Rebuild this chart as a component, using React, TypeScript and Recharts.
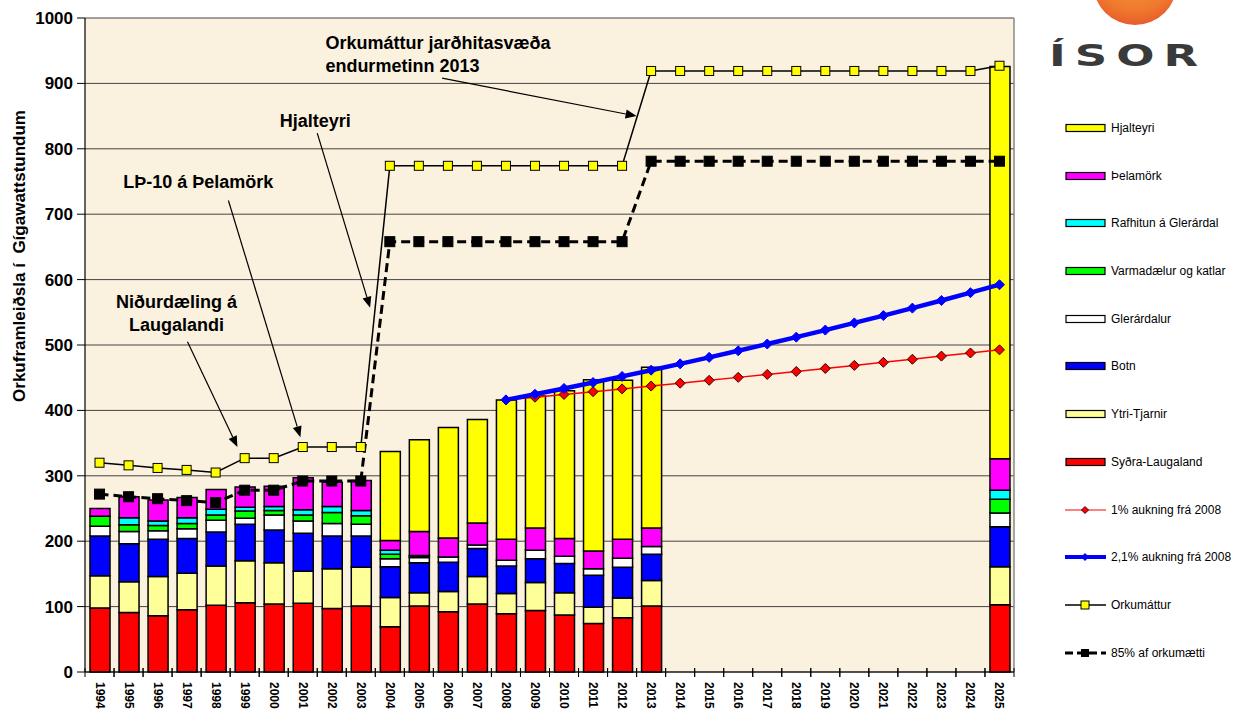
import React from 'react';
import {
  ComposedChart,
  Bar,
  Line,
  XAxis,
  YAxis,
  CartesianGrid,
  ReferenceLine,
  ReferenceDot,
} from 'recharts';

// ár
const years = [
  '1994', '1995', '1996', '1997', '1998', '1999', '2000', '2001', '2002', '2003',
  '2004', '2005', '2006', '2007', '2008', '2009', '2010', '2011', '2012', '2013',
  '2014', '2015', '2016', '2017', '2018', '2019', '2020', '2021', '2022', '2023',
  '2024', '2025',
];

// orkuvinnsla eftir svæðum (GWh) - 2014-2024 engar súlur
const sydraLaugaland = [98, 91, 86, 95, 102, 106, 104, 105, 97, 101, 69, 101, 92, 104, 89, 94, 87, 74, 83, 101, null, null, null, null, null, null, null, null, null, null, null, 103];
const ytriTjarnir = [49, 47, 60, 56, 60, 64, 63, 49, 61, 59, 45, 20, 31, 42, 31, 43, 34, 25, 30, 39, null, null, null, null, null, null, null, null, null, null, null, 58];
const botn = [61, 58, 57, 53, 52, 56, 50, 58, 50, 48, 47, 46, 45, 43, 42, 36, 45, 49, 47, 40, null, null, null, null, null, null, null, null, null, null, null, 61];
const glerardalur = [15, 19, 13, 15, 18, 9, 23, 19, 19, 18, 12, 8, 8, 5, 9, 13, 11, 10, 14, 12, null, null, null, null, null, null, null, null, null, null, null, 21];
const varmadaelur = [15, 10, 8, 8, 8, 11, 7, 9, 17, 13, 7, 2, 0, 0, 0, 0, 0, 0, 0, 0, null, null, null, null, null, null, null, null, null, null, null, 21];
const rafhitun = [0, 11, 7, 9, 9, 6, 6, 8, 9, 8, 6, 1, 0, 0, 0, 0, 0, 0, 0, 0, null, null, null, null, null, null, null, null, null, null, null, 14];
const thelamork = [12, 32, 32, 31, 30, 31, 31, 49, 37, 46, 15, 37, 29, 34, 32, 34, 27, 27, 29, 28, null, null, null, null, null, null, null, null, null, null, null, 48];
const hjalteyri = [0, 0, 0, 0, 0, 0, 0, 0, 0, 0, 136, 140, 169, 158, 213, 202, 226, 262, 243, 246, null, null, null, null, null, null, null, null, null, null, null, 600];

// spár frá 2008
const aukning1 = [null, null, null, null, null, null, null, null, null, null, null, null, null, null, 416, 420.2, 424.4, 428.6, 432.9, 437.2, 441.6, 446.0, 450.5, 455.0, 459.5, 464.1, 468.8, 473.5, 478.2, 483.0, 487.8, 492.6];
const aukning21 = [null, null, null, null, null, null, null, null, null, null, null, null, null, null, 416, 424.7, 433.6, 442.7, 452.0, 461.5, 471.2, 481.1, 491.2, 501.5, 512.0, 522.8, 533.8, 545.0, 556.4, 568.1, 580.0, 592.2];

// orkumáttur og 85% af honum
const orkumattur = [320, 316, 312, 309, 305, 327, 327, 344, 344, 344, 774, 774, 774, 774, 774, 774, 774, 774, 774, 919, 919, 919, 919, 919, 919, 919, 919, 919, 919, 919, 919, 927];
const orkumaetti85 = [272, 268, 265, 262, 259, 278, 278, 292, 292, 292, 658, 658, 658, 658, 658, 658, 658, 658, 658, 781, 781, 781, 781, 781, 781, 781, 781, 781, 781, 781, 781, 781];

const yTicks = [0, 100, 200, 300, 400, 500, 600, 700, 800, 900, 1000];

// skýringartextar og örvar (x: staða á árás, 0 = 1994, y í GWh)
const notes = [
  { lines: ['Niðurdæling á', 'Laugalandi'], x: 2.65, y: 557, anchor: 'middle' },
  { lines: ['LÞ-10 á Þelamörk'], x: 3.4, y: 740, anchor: 'middle' },
  { lines: ['Hjalteyri'], x: 7.43, y: 833, anchor: 'middle' },
  { lines: ['Orkumáttur jarðhitasvæða', 'endurmetinn 2013'], x: 7.78, y: 953, anchor: 'start' },
];
const arrows = [
  { from: { x: 3.03, y: 505 }, to: { x: 4.75, y: 344 } },
  { from: { x: 4.44, y: 721 }, to: { x: 6.92, y: 359 } },
  { from: { x: 7.5, y: 824 }, to: { x: 9.32, y: 557 } },
  { from: { x: 11.8, y: 908 }, to: { x: 18.5, y: 850 } },
];

const barSeries = [
  { key: 'sydra', name: 'Syðra-Laugaland', color: '#FF0000', values: sydraLaugaland },
  { key: 'ytri', name: 'Ytri-Tjarnir', color: '#FFFF99', values: ytriTjarnir },
  { key: 'botn', name: 'Botn', color: '#0000FF', values: botn },
  { key: 'gler', name: 'Glerárdalur', color: '#FFFFFF', values: glerardalur },
  { key: 'varm', name: 'Varmadælur og katlar', color: '#00FF00', values: varmadaelur },
  { key: 'rafh', name: 'Rafhitun á Glerárdal', color: '#00FFFF', values: rafhitun },
  { key: 'thel', name: 'Þelamörk', color: '#FF00FF', values: thelamork },
  { key: 'hjal', name: 'Hjalteyri', color: '#FFFF00', values: hjalteyri },
];

const data = years.map((year, i) => {
  const row: any = {
    year,
    pos: i,
    p1: aukning1[i],
    p21: aukning21[i],
    ork: orkumattur[i],
    o85: orkumaetti85[i],
  };
  barSeries.forEach((s) => {
    row[s.key] = s.values[i];
  });
  return row;
});

const FONT = '"Liberation Sans", Arial, sans-serif';

const diamond = (fill: string, r: number, stroke: string) => (p: any) => {
  const k = `dm-${p.index}`;
  if (p.cx == null || p.cy == null || p.value == null) return <g key={k} />;
  const { cx, cy } = p;
  return (
    <polygon
      key={k}
      points={`${cx},${cy - r} ${cx + r},${cy} ${cx},${cy + r} ${cx - r},${cy}`}
      fill={fill}
      stroke={stroke}
      strokeWidth={1}
    />
  );
};

const square = (fill: string, size: number) => (p: any) => {
  const k = `sq-${p.index}`;
  if (p.cx == null || p.cy == null || p.value == null) return <g key={k} />;
  return (
    <rect key={k} x={p.cx - size / 2} y={p.cy - size / 2} width={size} height={size} fill={fill} stroke="#000" strokeWidth={1} />
  );
};

const Arrow = (props: any) => {
  const { x1, y1, x2, y2 } = props;
  if ([x1, y1, x2, y2].some((v) => v == null || Number.isNaN(v))) return <g />;
  const a = Math.atan2(y2 - y1, x2 - x1);
  const len = 11;
  const w = 4.5;
  const bx = x2 - len * Math.cos(a);
  const by = y2 - len * Math.sin(a);
  const p1 = `${bx + w * Math.sin(a)},${by - w * Math.cos(a)}`;
  const p2 = `${bx - w * Math.sin(a)},${by + w * Math.cos(a)}`;
  return (
    <g>
      <line x1={x1} y1={y1} x2={bx} y2={by} stroke="#000" strokeWidth={1.2} />
      <polygon points={`${x2},${y2} ${p1} ${p2}`} fill="#000" />
    </g>
  );
};

const noteShape = (lines: string[], anchor: string) => (p: any) => (
  <text x={p.cx} y={p.cy} textAnchor={anchor as any} fontFamily={FONT} fontSize={18} fontWeight="bold" fill="#000">
    {lines.map((l, i) => (
      <tspan key={i} x={p.cx} dy={i === 0 ? 0 : 23}>
        {l}
      </tspan>
    ))}
  </text>
);

const YearTick = (props: any) => {
  const { x, y, payload } = props;
  const half = payload && payload.offset ? payload.offset : 14.5;
  return (
    <g>
      <line x1={x - half} x2={x - half} y1={y - 4} y2={y + 5} stroke="#000" />
      <line x1={x + half} x2={x + half} y1={y - 4} y2={y + 5} stroke="#000" />
      <text
        transform={`translate(${x},${y + 10}) rotate(90)`}
        textAnchor="start"
        dominantBaseline="central"
        fontFamily={FONT}
        fontSize={12}
        fontWeight="bold"
        fill="#000"
      >
        {payload.value}
      </text>
    </g>
  );
};

const YLabel = () => (
  <text
    x={19}
    y={256}
    transform="rotate(-90 19 256)"
    textAnchor="middle"
    dominantBaseline="central"
    fontFamily={FONT}
    fontSize={17}
    fontWeight="bold"
    fill="#000"
    xmlSpace="preserve"
  >
    Orkuframleiðsla í  Gígawattstundum
  </text>
);

const legendItems = [
  ...barSeries.slice().reverse().map((s) => ({ name: s.name, kind: 'bar', color: s.color })),
  { name: '1% aukning frá 2008', kind: 'p1', color: '#FF0000' },
  { name: '2,1% aukning frá 2008', kind: 'p21', color: '#0000FF' },
  { name: 'Orkumáttur', kind: 'ork', color: '#000' },
  { name: '85% af orkumætti', kind: 'o85', color: '#000' },
];

const Swatch = ({ item }: any) => {
  let inner: any = null;
  if (item.kind === 'bar') {
    inner = <rect x={1} y={3.5} width={39} height={7} fill={item.color} stroke="#000" strokeWidth={1.2} />;
  } else if (item.kind === 'p1') {
    inner = (
      <g>
        <line x1={0} x2={41} y1={7} y2={7} stroke="#FF0000" strokeWidth={1} />
        <polygon points="20,3.5 23.5,7 20,10.5 16.5,7" fill="#FF0000" stroke="#400" strokeWidth={1} />
      </g>
    );
  } else if (item.kind === 'p21') {
    inner = (
      <g>
        <line x1={0} x2={41} y1={7} y2={7} stroke="#0000FF" strokeWidth={4} />
        <polygon points="20,3 24,7 20,11 16,7" fill="#0000FF" />
      </g>
    );
  } else if (item.kind === 'ork') {
    inner = (
      <g>
        <line x1={0} x2={41} y1={7} y2={7} stroke="#000" strokeWidth={1.5} />
        <rect x={16} y={3} width={8} height={8} fill="#FFFF00" stroke="#000" />
      </g>
    );
  } else {
    inner = (
      <g>
        <line x1={0} x2={41} y1={7} y2={7} stroke="#000" strokeWidth={3} strokeDasharray="8 4" />
        <rect x={16} y={3} width={8} height={8} fill="#000" />
      </g>
    );
  }
  return (
    <svg width={44} height={14} style={{ display: 'block', marginRight: 2 }}>
      {inner}
    </svg>
  );
};

const App = () => {
  return (
    <div
      style={{
        position: 'absolute',
        left: 0,
        top: 0,
        width: 1239,
        height: 711,
        overflow: 'hidden',
        background: '#fff',
        fontFamily: FONT,
      }}
    >
      <ComposedChart
        width={1239}
        height={711}
        data={data}
        margin={{ top: 18, right: 225, bottom: 4, left: 5 }}
        barSize={20}
      >
        <CartesianGrid horizontal vertical={false} fill="#FAF1DE" stroke="#444" strokeOpacity={1} />
        <XAxis
          dataKey="year"
          interval={0}
          height={35}
          tickSize={0}
          tickMargin={0}
          tickLine={false}
          axisLine={{ stroke: '#000', strokeWidth: 1.2 }}
          tick={<YearTick />}
        />
        <XAxis xAxisId="ann" dataKey="pos" type="number" domain={[-0.5, 31.5]} allowDataOverflow hide />
        <YAxis
          width={80}
          domain={[0, 1000]}
          ticks={yTicks}
          interval={0}
          tickSize={8}
          tickMargin={4}
          axisLine={{ stroke: '#000', strokeWidth: 1.2 }}
          tickLine={{ stroke: '#000' }}
          tick={{ fill: '#000', fontSize: 17, fontWeight: 'bold', fontFamily: FONT }}
          label={<YLabel />}
        />
        {barSeries.map((s) => (
          <Bar
            key={s.key}
            dataKey={s.key}
            name={s.name}
            stackId="a"
            fill={s.color}
            stroke="#000"
            strokeWidth={1.5}
            isAnimationActive={false}
          />
        ))}
        <Line
          dataKey="p1"
          name="1% aukning frá 2008"
          stroke="#FF0000"
          strokeWidth={1.5}
          dot={diamond('#FF0000', 5, '#300')}
          isAnimationActive={false}
        />
        <Line
          dataKey="p21"
          name="2,1% aukning frá 2008"
          stroke="#0000FF"
          strokeWidth={4.5}
          dot={diamond('#0000FF', 5, '#0000FF')}
          isAnimationActive={false}
        />
        <Line
          dataKey="o85"
          name="85% af orkumætti"
          stroke="#000"
          strokeWidth={3}
          strokeDasharray="9 5"
          dot={square('#000', 10)}
          isAnimationActive={false}
        />
        <Line
          dataKey="ork"
          name="Orkumáttur"
          stroke="#000"
          strokeWidth={1.5}
          dot={square('#FFFF00', 9)}
          isAnimationActive={false}
        />
        <ReferenceLine xAxisId="ann" x={31.5} stroke="#888" strokeWidth={1.5} ifOverflow="visible" />
        {arrows.map((a, i) => (
          <ReferenceLine key={`ar-${i}`} xAxisId="ann" segment={[a.from, a.to]} shape={Arrow} ifOverflow="visible" />
        ))}
        {notes.map((n, i) => (
          <ReferenceDot
            key={`nt-${i}`}
            xAxisId="ann"
            x={n.x}
            y={n.y}
            r={0}
            ifOverflow="visible"
            shape={noteShape(n.lines, n.anchor)}
          />
        ))}
      </ComposedChart>

      {/* ÍSOR merki */}
      <div
        style={{
          position: 'absolute',
          left: 1093,
          top: -59,
          width: 84,
          height: 84,
          borderRadius: '50%',
          background: 'radial-gradient(circle at 50% 30%, #F6A040 0%, #F07A2E 60%, #E0442A 100%)',
        }}
      />
      <div
        style={{
          position: 'absolute',
          left: 1049,
          top: 38,
          fontFamily: '"DejaVu Sans", sans-serif',
          fontWeight: 'bold',
          fontSize: 30,
          letterSpacing: 6,
          color: '#3a3a3a',
          transform: 'scaleX(1.5)',
          transformOrigin: 'left top',
        }}
      >
        ÍSOR
      </div>

      {/* skýringar */}
      <div style={{ position: 'absolute', left: 1065, top: 118 }}>
        {legendItems.map((item, i) => (
          <div
            key={item.name}
            style={{
              display: 'flex',
              alignItems: 'center',
              height: 20,
              marginBottom: i === legendItems.length - 1 ? 0 : 27.7,
              fontSize: 12,
              color: '#000',
              whiteSpace: 'nowrap',
            }}
          >
            <Swatch item={item} />
            <span>{item.name}</span>
          </div>
        ))}
      </div>
    </div>
  );
};

export default App;
